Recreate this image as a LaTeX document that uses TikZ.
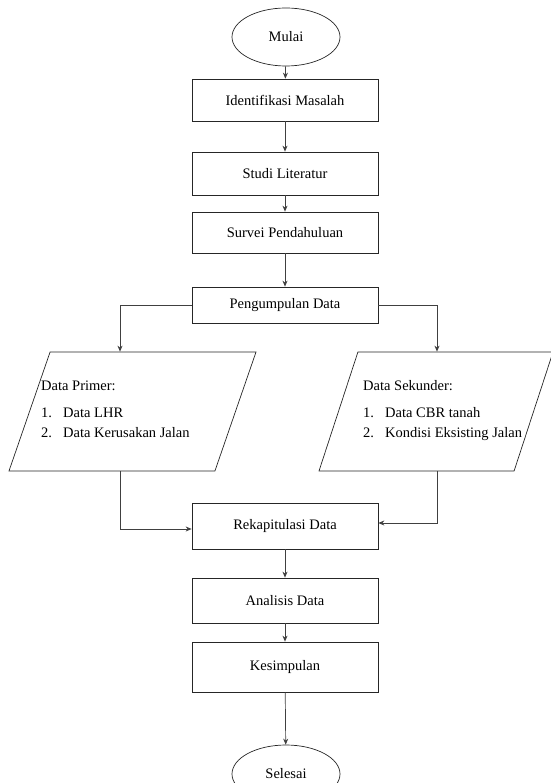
\documentclass[tikz,border=0pt]{standalone}
\usepackage{fontspec}
\setmainfont{Liberation Serif}
\usepackage{array}
\usetikzlibrary{shapes.geometric,arrows.meta}
\tikzstyle{arrow} = [-{Stealth[length=6pt,width=5pt]},draw=black!75,line width=0.7pt]
\tikzstyle{proses} = [draw=black!85,line width=0.7pt,rectangle,minimum width=186pt,minimum height=42pt,font=\fontsize{14.5}{17}\selectfont]
\tikzstyle{terminal} = [draw=black!85,line width=0.7pt,ellipse,minimum width=108pt,minimum height=58pt,font=\fontsize{14.5}{17}\selectfont]
\tikzstyle{masukan} = [draw=black!85,line width=0.7pt,trapezium,trapezium left angle=76,trapezium right angle=104,trapezium stretches=true,minimum height=119pt]
\tikzstyle{isi} = [anchor=north west,inner sep=0pt,align=left,font=\fontsize{14.5}{20}\selectfont]

\begin{document}
\begin{tikzpicture}[x=1pt,y=-1pt]
      \useasboundingbox (0,0) rectangle (550,783);

      \node[terminal] (mulai) at (286, 37) {Mulai};
      \node[proses] (identifikasi) at (285, 100) {Identifikasi Masalah};
      \node[proses] [minimum height=43pt] (studi) at (285, 173.5) {Studi Literatur};
      \node[proses] [minimum height=41pt] (survei) at (285, 232.5) {Survei Pendahuluan};
      \node[proses] [minimum height=36pt] (kumpul) at (285, 305) {Pengumpulan Data};

      \node[masukan] [minimum width=247pt] (primer) at (132.5, 411.5) {};
      \node[isi] (primerteks) at (41, 376) {%
        \begin{tabular}{@{}p{22pt}@{}l@{}}
        \multicolumn{2}{@{}l@{}}{Data Primer:}\\[7pt]
        1. & Data LHR\\
        2. & Data Kerusakan Jalan
        \end{tabular}};
      \node[masukan] [minimum width=234pt] (sekunder) at (436, 411.5) {};
      \node[isi] (sekunderteks) at (363, 376) {%
        \begin{tabular}{@{}p{22pt}@{}l@{}}
        \multicolumn{2}{@{}l@{}}{Data Sekunder:}\\[7pt]
        1. & Data CBR tanah\\
        2. & Kondisi Eksisting Jalan
        \end{tabular}};

      \node[proses] [minimum height=46pt] (rekap) at (285, 526) {Rekapitulasi Data};
      \node[proses] [minimum height=45pt] (analisis) at (285, 600.5) {Analisis Data};
      \node[proses] [minimum height=50pt] (simpulan) at (285, 667) {Kesimpulan};
      \node[terminal] (selesai) at (286, 774) {Selesai};

      \draw[arrow] (mulai) -- (identifikasi);
      \draw[arrow] (identifikasi) -- (studi);
      \draw[arrow] (studi) -- (survei);
      \draw[arrow] (survei) -- (kumpul);
      \draw[arrow] (kumpul.west) -| ([xshift=-12.5pt]primer.north);
      \draw[arrow] (kumpul.east) -| ([xshift=1pt]sekunder.north);
      \draw[arrow] ([xshift=-12.5pt]primer.south) |- ([yshift=-3pt]rekap.west);
      \draw[arrow] ([xshift=1pt]sekunder.south) |- ([yshift=3pt]rekap.east);
      \draw[arrow] (rekap) -- (analisis);
      \draw[arrow] (analisis) -- (simpulan);
      \draw[arrow] (simpulan) -- (selesai);
    \end{tikzpicture}
\end{document}
